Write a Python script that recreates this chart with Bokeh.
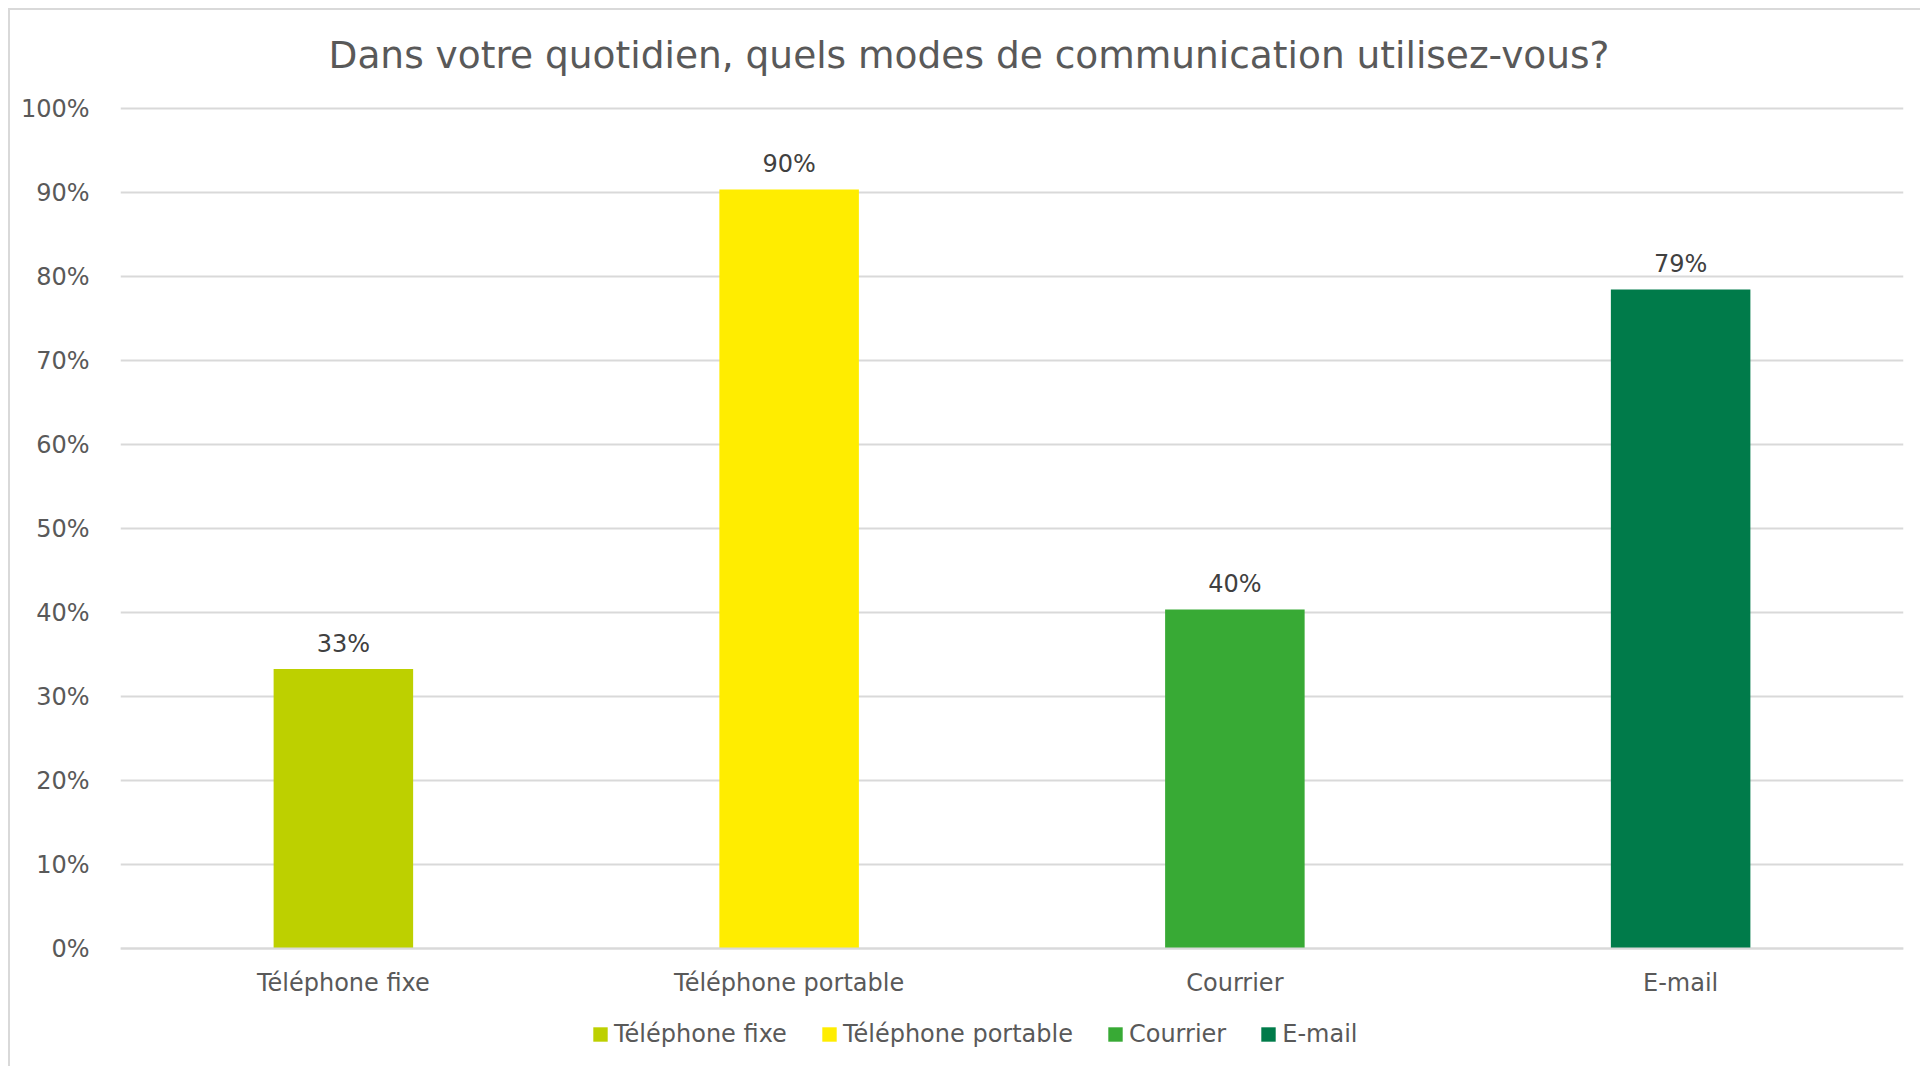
from bokeh.plotting import figure
from bokeh.models import (ColumnDataSource, FactorRange, Range1d, NumeralTickFormatter,
                          FixedTicker, LabelSet, Label, Legend, LegendItem)
from bokeh.core.properties import value
from bokeh.embed import file_html
from bokeh.resources import INLINE

# ---- data ----
categories = ["Téléphone fixe", "Téléphone portable", "Courrier", "E-mail"]
values = [0.333, 0.904, 0.404, 0.785]
value_labels = ["33%", "90%", "40%", "79%"]
colors = ["#BDD000", "#FFED00", "#38AA35", "#007B4A"]
y_ticks = [0.0, 0.1, 0.2, 0.3, 0.4, 0.5, 0.6, 0.7, 0.8, 0.9, 1.0]
title_text = "Dans votre quotidien, quels modes de communication utilisez-vous?"

FONT = "DejaVu Sans"
W, H = 1912, 1058

src = ColumnDataSource(dict(cat=categories, val=values, lab=value_labels, col=colors))

# the frame is extended above and below the value axis so that the title,
# category labels and legend are drawn inside it
p = figure(x_range=FactorRange(*categories, range_padding=0, factor_padding=0),
           y_range=Range1d(-0.1401, 1.1099), title=None,
           width=W, height=H, output_backend="svg", toolbar_location=None,
           min_border_left=110, min_border_right=19, min_border_top=6, min_border_bottom=2)
p.styles = {"margin-left": "8px", "margin-top": "8px",
            "border-top": "2px solid #D9D9D9", "border-left": "2px solid #D9D9D9"}
p.outline_line_color = None
p.background_fill_color = "white"
p.border_fill_color = "white"

r = p.vbar(x="cat", top="val", width=0.313, color="col", source=src, line_color=None)

# axes
p.yaxis.ticker = FixedTicker(ticks=y_ticks)
p.yaxis.formatter = NumeralTickFormatter(format="0%")
p.yaxis.axis_line_color = None
p.yaxis.major_tick_line_color = None
p.yaxis.minor_tick_line_color = None
p.yaxis.major_label_standoff = 25
p.yaxis.major_label_text_font = FONT
p.yaxis.major_label_text_font_size = "24px"
p.yaxis.major_label_text_color = "#595959"

p.xaxis.fixed_location = 0
p.xaxis.axis_line_color = "#D9D9D9"
p.xaxis.axis_line_width = 2
p.xaxis.major_tick_line_color = None
p.xaxis.minor_tick_line_color = None
p.xaxis.major_label_standoff = 14
p.xaxis.major_label_text_font = FONT
p.xaxis.major_label_text_font_size = "24px"
p.xaxis.major_label_text_color = "#595959"

p.xgrid.visible = False
p.ygrid.grid_line_color = "#D9D9D9"
p.ygrid.grid_line_width = 2

# data labels
labels = LabelSet(x="cat", y="val", text="lab", source=src, y_offset=17,
                  text_align="center", text_baseline="alphabetic",
                  text_font=value(FONT), text_font_size=value("24px"), text_color=value("#404040"))
p.add_layout(labels)

# title
title = Label(x=2, y=1, x_offset=-43, y_offset=54, text=title_text,
              text_align="center", text_baseline="alphabetic",
              text_font=FONT, text_font_size="37.5px", text_color="#595959")
p.add_layout(title)

# legend
items = [LegendItem(label=c, renderers=[r], index=i) for i, c in enumerate(categories)]
legend = Legend(items=items, orientation="horizontal", location=(471, 18),
                glyph_width=18, glyph_height=18, label_standoff=5, spacing=33,
                padding=0, margin=0, border_line_color=None, background_fill_alpha=0,
                label_text_font=FONT, label_text_font_size="24px", label_text_color="#595959")
p.add_layout(legend, "center")

open("out.html", "w").write(file_html(p, INLINE))
